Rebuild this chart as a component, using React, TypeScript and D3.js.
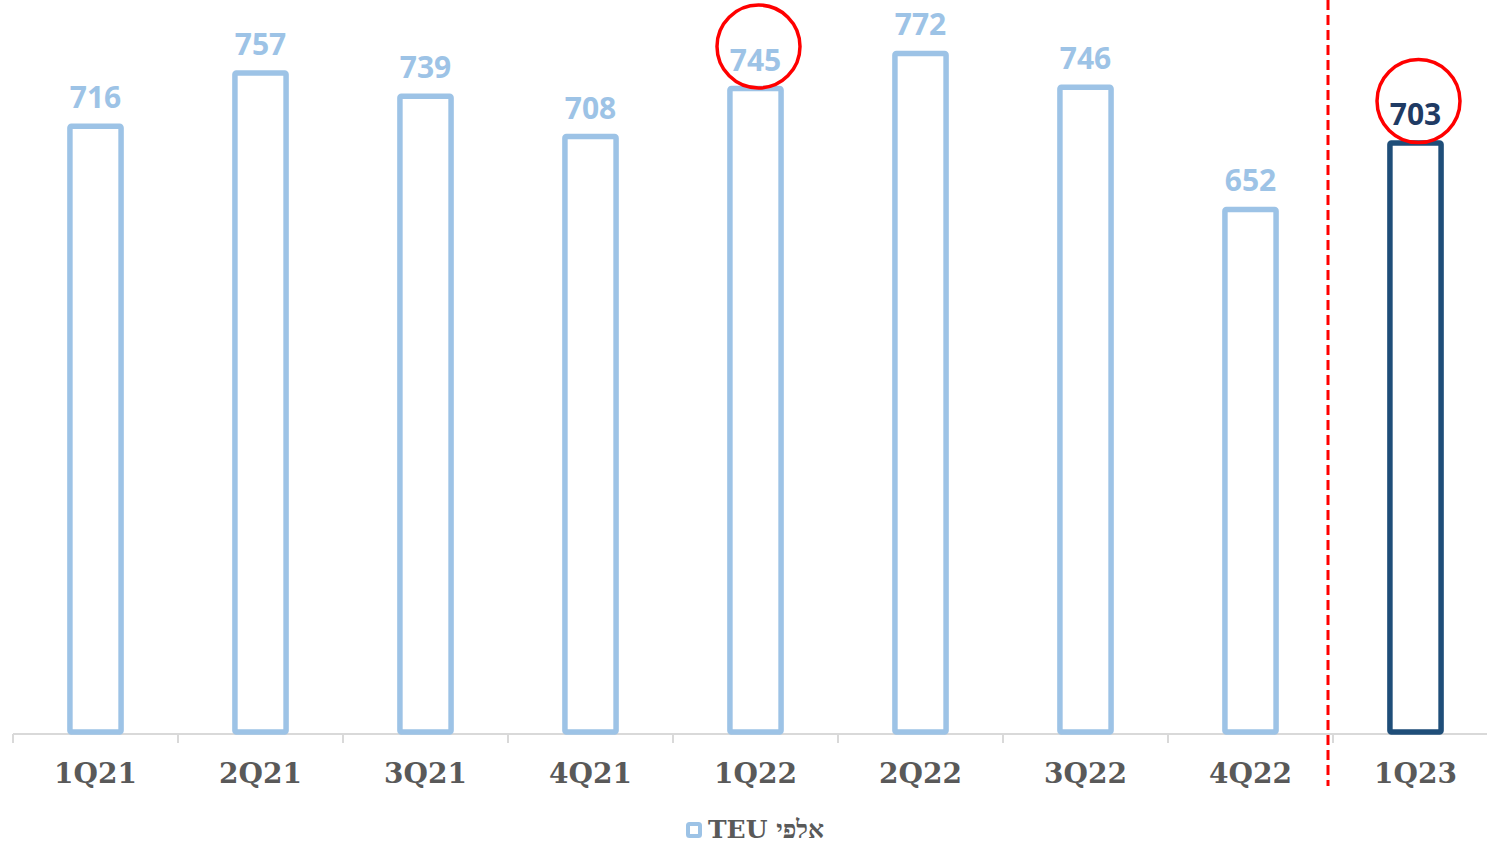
import React from "react";
import * as d3 from "d3";

const categories = ["1Q21", "2Q21", "3Q21", "4Q21", "1Q22", "2Q22", "3Q22", "4Q22", "1Q23"];
const values = [716, 757, 739, 708, 745, 772, 746, 652, 703];
const highlighted = ["1Q22", "1Q23"];
const legendLabel = "TEU אלפי";

const W = 1487;
const H = 845;
const LIGHT = "#9dc3e6";
const DARK = "#1f4e79";

export default function App() {
  const x = d3.scaleBand<string>().domain(categories).range([13, 1498]).paddingInner(0.69).paddingOuter(0.345);
  const y = d3.scaleLinear().domain([250, 800]).range([732, 17]);
  const step = x.step();
  const axisY = 734;
  const lastIdx = categories.length - 1;
  const dashX = 13 + lastIdx * step - 5;

  return (
    <svg width={W} height={H} style={{ position: "absolute", left: 0, top: 0, background: "#fff" }}>
      {/* axis line */}
      <line x1={13} x2={W} y1={axisY} y2={axisY} stroke="#d9d9d9" strokeWidth={2} />
      {categories.map((c, i) => (
        <line key={"t" + c} x1={13 + i * step} x2={13 + i * step} y1={axisY} y2={axisY + 9} stroke="#d9d9d9" strokeWidth={2} />
      ))}
      {/* bars */}
      {categories.map((c, i) => {
        const isLast = i === lastIdx;
        const bx = x(c)!;
        const top = y(values[i]);
        return (
          <rect
            key={"b" + c}
            x={bx}
            y={top}
            width={x.bandwidth()}
            height={y(250) - top}
            fill="#fff"
            stroke={isLast ? DARK : LIGHT}
            strokeWidth={5.5}
            rx={1.5}
          />
        );
      })}
      {/* value labels */}
      {categories.map((c, i) => {
        const isLast = i === lastIdx;
        const cx = x(c)! + x.bandwidth() / 2;
        return (
          <text
            key={"v" + c}
            x={cx}
            y={y(values[i]) - 18}
            textAnchor="middle"
            fontFamily="'Open Sans', sans-serif"
            fontWeight={700}
            fontSize={30}
            fill={isLast ? "#1f3b64" : LIGHT}
          >
            {values[i]}
          </text>
        );
      })}
      {/* highlight circles */}
      {categories.map((c, i) =>
        highlighted.includes(c) ? (
          <circle
            key={"c" + c}
            cx={x(c)! + x.bandwidth() / 2 + 3}
            cy={y(values[i]) - 42}
            r={41.5}
            fill="none"
            stroke="#ff0000"
            strokeWidth={3.5}
          />
        ) : null
      )}
      {/* category labels */}
      {categories.map((c) => (
        <text
          key={"l" + c}
          x={x(c)! + x.bandwidth() / 2}
          y={783}
          textAnchor="middle"
          fontFamily="'DejaVu Serif', serif"
          fontWeight={700}
          fontSize={28}
          fill="#595959"
        >
          {c}
        </text>
      ))}
      {/* dashed separator */}
      <line x1={dashX} x2={dashX} y1={0} y2={786} stroke="#ff0000" strokeWidth={3} strokeDasharray="10,5" />
      {/* legend */}
      <rect x={688} y={824} width={12} height={12} fill="#fff" stroke={LIGHT} strokeWidth={4} rx={1.5} />
      <text x={708} y={838} fontFamily="'DejaVu Serif', serif" fontWeight={700} fontSize={25} fill="#595959">
        {legendLabel}
      </text>
    </svg>
  );
}
